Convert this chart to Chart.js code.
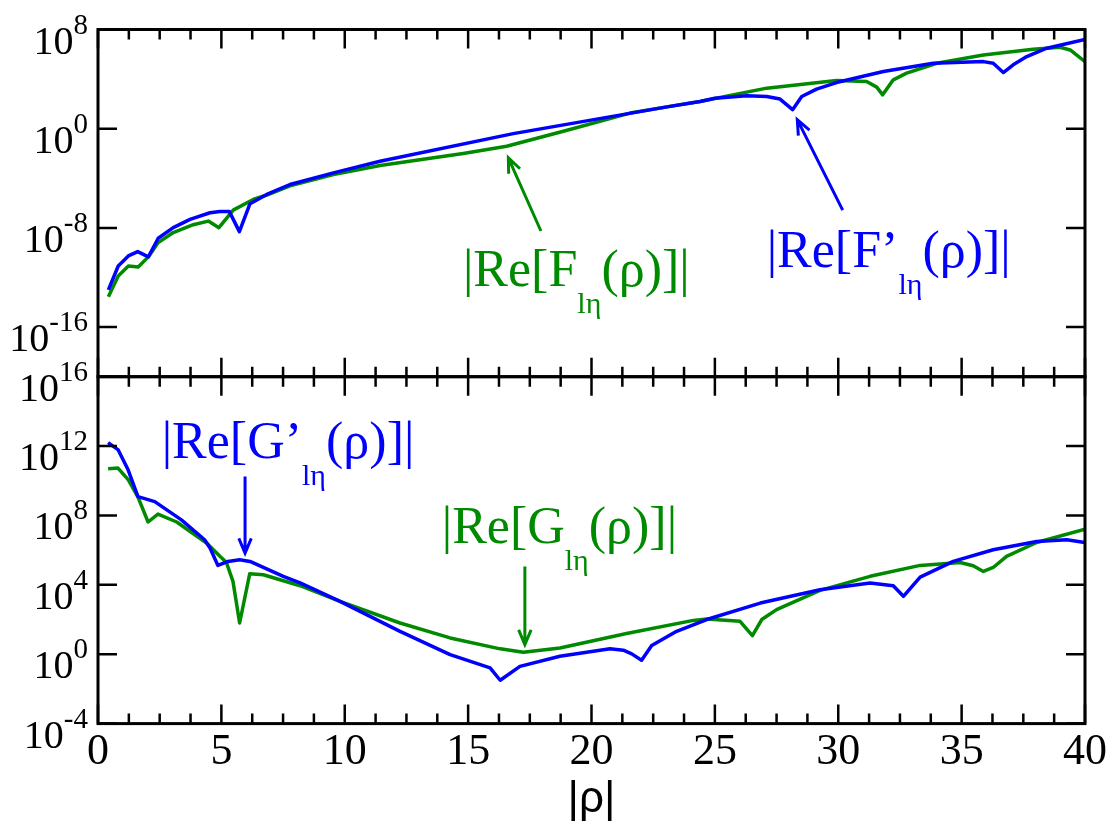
<!DOCTYPE html>
<html>
<head>
<meta charset="utf-8">
<script src="https://cdn.jsdelivr.net/npm/chart.js@4.4.1/dist/chart.umd.min.js"></script>
<style>
  html, body { margin: 0; padding: 0; background: #fff; }
  #wrap { position: relative; width: 1112px; height: 829px; }
  #wrap canvas { position: absolute; left: 0; top: 0; }
</style>
</head>
<body>
<div id="wrap">
  <canvas id="topPanel" width="1112" height="829"></canvas>
  <canvas id="bottomPanel" width="1112" height="829"></canvas>
</div>
<script>
// values: |rho| and the magnitude of each curve

// top panel, |Re[F(rho)]|
const fRho = [0.42, 0.82, 1.23, 1.63, 2.04, 2.44, 3.05, 3.86, 4.47, 4.9, 5.48, 6.29, 6.84, 7.78,
  9.54, 11.43, 14.8, 16.56, 18.86, 21.56, 23.18, 24.4, 27.1, 29.93, 31.15, 31.56, 31.8, 32.23,
  32.77, 33.99, 35.88, 37.9, 38.99, 39.4, 40];
const fValues = [2.75e-14, 1.35e-12, 8.5e-12, 7.1e-12, 4.6e-11, 6.5e-10, 4.2e-9, 1.82e-8, 3.55e-8,
  1.05e-8, 2.7e-7, 1.95e-6, 4.5e-6, 2.5e-5, 2.0e-4, 1.07e-3, 1.0e-2, 3.8e-2, 0.62, 18.2, 63, 158,
  1860, 7600, 6300, 2240, 537, 8700, 3.0e4, 1.9e5, 8.9e5, 2.57e6, 3.7e6, 2.24e6, 2.57e5];

// top panel, |Re[F'(rho)]|
const dfRho = [0.42, 0.82, 1.23, 1.61, 2.04, 2.44, 3.05, 3.73, 4.54, 4.94, 5.32, 5.73, 6.16, 6.84,
  7.78, 9.54, 11.43, 16.83, 23.18, 24.4, 25.0, 26.3, 27.1, 27.64, 28.15, 28.52, 29.12, 29.93,
  31.83, 33.85, 35.88, 36.28, 36.69, 37.09, 37.64, 38.45, 40];
const dfValues = [1.0e-13, 8.5e-12, 5.5e-11, 1.23e-10, 4.6e-11, 1.45e-9, 1.05e-8, 4.9e-8, 1.66e-7,
  2.14e-7, 2.14e-7, 5.0e-9, 8.9e-7, 5.0e-6, 3.16e-5, 2.75e-4, 2.34e-3, 0.40, 63, 158, 282, 447,
  398, 245, 34, 398, 1550, 5250, 4.07e4, 1.9e5, 2.57e5, 1.9e5, 3.4e4, 1.41e5, 6.5e5, 3.1e6, 1.58e7];

// bottom panel, |Re[G(rho)]|
const gRho = [0.41, 0.81, 1.23, 1.62, 2.03, 2.43, 3.19, 4.4, 4.94, 5.2, 5.47, 5.74, 6.15, 6.7,
  8.19, 9.81, 12.24, 14.27, 16.3, 17.24, 18.72, 21.42, 24.13, 24.67, 26.02, 26.52, 26.9, 27.5,
  29.26, 31.29, 33.32, 34.94, 35.47, 35.88, 36.28, 36.82, 38.04, 40];
const gValues = [4.9e10, 5.4e10, 1.12e10, 1.15e9, 4.2e7, 1.2e8, 4.2e7, 2.57e6, 4.4e5, 2.0e5, 1.58e4,
  63, 4.4e4, 3.8e4, 8900, 1120, 63, 8.7, 2.04, 1.29, 2.3, 15.5, 89, 107, 79, 11.7, 100, 372,
  4800, 3.1e4, 1.32e5, 1.95e5, 1.26e5, 5.9e4, 1.0e5, 4.4e5, 2.75e6, 1.62e7];

// bottom panel, |Re[G'(rho)]|
const dgRho = [0.41, 0.82, 1.22, 1.62, 2.3, 3.38, 4.32, 4.54, 4.86, 5.27, 5.74, 6.16, 7.51, 8.19,
  9.81, 12.24, 14.27, 15.89, 16.3, 17.1, 18.72, 20.75, 21.29, 21.63, 22.03, 22.44, 23.45, 24.67,
  26.84, 29.26, 31.29, 32.23, 32.64, 33.32, 34.66, 36.28, 38.04, 39.26, 40];
const dgValues = [1.58e12, 6.0e11, 4.3e10, 1.23e9, 6.3e8, 5.6e7, 4.0e6, 1.32e6, 1.32e5, 2.24e5,
  2.8e5, 2.24e5, 3.1e4, 1.29e4, 1120, 20.9, 0.95, 0.162, 0.0316, 0.2, 0.76, 2.04, 1.7, 1.05, 0.45,
  3.16, 20.9, 100, 890, 5250, 1.26e4, 8900, 2190, 2.8e4, 2.24e5, 1.05e6, 3.16e6, 4.0e6, 2.75e6];

// axes
const xTickLabels = ["0", "5", "10", "15", "20", "25", "30", "35", "40"];
const xMinorPerMajor = 4;
const topDecades = [8, 0, -8, -16];
const bottomDecades = [16, 12, 8, 4, 0, -4];

const GREEN = "#008a00";
const BLUE = "#0000ff";
const SERIF = "'Liberation Serif', 'Times New Roman', serif";

const toPoints = (xs, ys) => xs.map((x, i) => ({ x, y: ys[i] }));

const lineStyle = (color) => ({
  borderColor: color,
  borderWidth: 3.5,
  pointRadius: 0,
  tension: 0,
  fill: false,
  borderJoinStyle: "round",
});

function drawNote(ctx, chart, note) {
  const { x, y } = chart.scales;
  const px = x.getPixelForValue(note.x);
  const py = y.getPixelForValue(10 ** note.ey);
  ctx.fillStyle = note.color;
  ctx.textAlign = "left";
  ctx.textBaseline = "alphabetic";
  let cx = px;
  note.parts.forEach(([text, sub]) => {
    ctx.font = sub ? `30px ${SERIF}` : `52px ${SERIF}`;
    ctx.fillText(text, cx, sub ? py + 27 : py);
    cx += ctx.measureText(text).width;
  });
}

function drawArrow(ctx, chart, arrow) {
  const { x, y } = chart.scales;
  const x0 = x.getPixelForValue(arrow.from[0]);
  const y0 = y.getPixelForValue(10 ** arrow.from[1]);
  const x1 = x.getPixelForValue(arrow.to[0]);
  const y1 = y.getPixelForValue(10 ** arrow.to[1]);
  const ang = Math.atan2(y1 - y0, x1 - x0);
  const head = 16;
  ctx.strokeStyle = arrow.color;
  ctx.lineWidth = 3;
  ctx.beginPath();
  ctx.moveTo(x0, y0);
  ctx.lineTo(x1, y1);
  ctx.moveTo(x1 - head * Math.cos(ang - 0.4), y1 - head * Math.sin(ang - 0.4));
  ctx.lineTo(x1, y1);
  ctx.lineTo(x1 - head * Math.cos(ang + 0.4), y1 - head * Math.sin(ang + 0.4));
  ctx.stroke();
}

// frame with inward ticks, 10^n labels and the curve annotations
const panelFrame = {
  id: "panelFrame",
  afterDatasetsDraw(chart, args, opts) {
    const { ctx, chartArea: a, scales } = chart;
    const xs = scales.x;
    const ys = scales.y;
    ctx.save();

    (opts.arrows || []).forEach((arrow) => drawArrow(ctx, chart, arrow));
    (opts.notes || []).forEach((note) => drawNote(ctx, chart, note));

    ctx.strokeStyle = "#000";
    ctx.lineWidth = 2.5;
    ctx.beginPath();
    const steps = (xTickLabels.length - 1) * xMinorPerMajor;
    for (let i = 0; i <= steps; i++) {
      const value = (Number(xTickLabels[xTickLabels.length - 1]) * i) / steps;
      const px = xs.getPixelForValue(value);
      const len = i % xMinorPerMajor === 0 ? 19 : 10;
      ctx.moveTo(px, a.bottom);
      ctx.lineTo(px, a.bottom - len);
      ctx.moveTo(px, a.top);
      ctx.lineTo(px, a.top + len);
    }
    opts.decades.forEach((d) => {
      const py = ys.getPixelForValue(10 ** d);
      ctx.moveTo(a.left, py);
      ctx.lineTo(a.left + 19, py);
      ctx.moveTo(a.right, py);
      ctx.lineTo(a.right - 19, py);
    });
    ctx.stroke();

    ctx.lineWidth = 3;
    ctx.strokeRect(a.left, a.top, a.right - a.left, a.bottom - a.top);

    ctx.fillStyle = "#000";
    ctx.textBaseline = "alphabetic";
    opts.decades.forEach((d) => {
      const py = ys.getPixelForValue(10 ** d);
      const right = a.left - 10;
      ctx.font = `29px ${SERIF}`;
      const exp = String(d);
      const expW = ctx.measureText(exp).width;
      ctx.textAlign = "left";
      ctx.fillText(exp, right - expW, py + 4);
      ctx.font = `40px ${SERIF}`;
      ctx.textAlign = "right";
      ctx.fillText("10", right - expW, py + 24);
    });

    if (opts.xLabels) {
      ctx.font = `44px ${SERIF}`;
      ctx.textAlign = "center";
      xTickLabels.forEach((label) => {
        ctx.fillText(label, xs.getPixelForValue(Number(label)), a.bottom + 40);
      });
      ctx.font = "44px 'Liberation Sans', Arial, sans-serif";
      ctx.fillText("|ρ|", (a.left + a.right) / 2, 812);
    }
    ctx.restore();
  },
};

function makePanel(canvas, datasets, yMin, yMax, padding, frame) {
  return new Chart(canvas, {
    type: "line",
    data: { datasets },
    options: {
      responsive: false,
      animation: false,
      layout: { padding },
      plugins: {
        legend: { display: false },
        tooltip: { enabled: false },
        panelFrame: frame,
      },
      scales: {
        x: { type: "linear", min: 0, max: 40, display: false },
        y: { type: "logarithmic", min: yMin, max: yMax, display: false },
      },
    },
    plugins: [panelFrame],
  });
}

makePanel(
  document.getElementById("topPanel"),
  [
    { label: "|Re[F'(ρ)]|", data: toPoints(dfRho, dfValues), ...lineStyle(BLUE) },
    { label: "|Re[F(ρ)]|", data: toPoints(fRho, fValues), ...lineStyle(GREEN) },
  ],
  1e-20,
  1e8,
  { left: 98, right: 27, top: 29.5, bottom: 452.3 },
  {
    decades: topDecades,
    xLabels: false,
    notes: [
      { x: 14.79, ey: -12.7, color: GREEN, parts: [["|Re[F"], ["lη", true], ["(ρ)]|"]] },
      { x: 27.1, ey: -11.17, color: BLUE, parts: [["|Re[F’"], ["lη", true], ["(ρ)]|"]] },
    ],
    arrows: [
      { from: [17.95, -8.25], to: [16.63, -2.35], color: GREEN },
      { from: [30.18, -6.57], to: [28.34, 0.73], color: BLUE },
    ],
  }
);

makePanel(
  document.getElementById("bottomPanel"),
  [
    { label: "|Re[G'(ρ)]|", data: toPoints(dgRho, dgValues), ...lineStyle(BLUE) },
    { label: "|Re[G(ρ)]|", data: toPoints(gRho, gValues), ...lineStyle(GREEN) },
  ],
  1e-4,
  1e16,
  { left: 98, right: 27, top: 376.7, bottom: 105.4 },
  {
    decades: bottomDecades,
    xLabels: true,
    notes: [
      { x: 2.58, ey: 11.3, color: BLUE, parts: [["|Re[G’"], ["lη", true], ["(ρ)]|"]] },
      { x: 13.93, ey: 6.41, color: GREEN, parts: [["|Re[G"], ["lη", true], ["(ρ)]|"]] },
    ],
    arrows: [
      { from: [5.96, 10.24], to: [5.96, 5.83], color: BLUE },
      { from: [17.3, 5.06], to: [17.3, 0.55], color: GREEN },
    ],
  }
);
</script>
</body>
</html>
